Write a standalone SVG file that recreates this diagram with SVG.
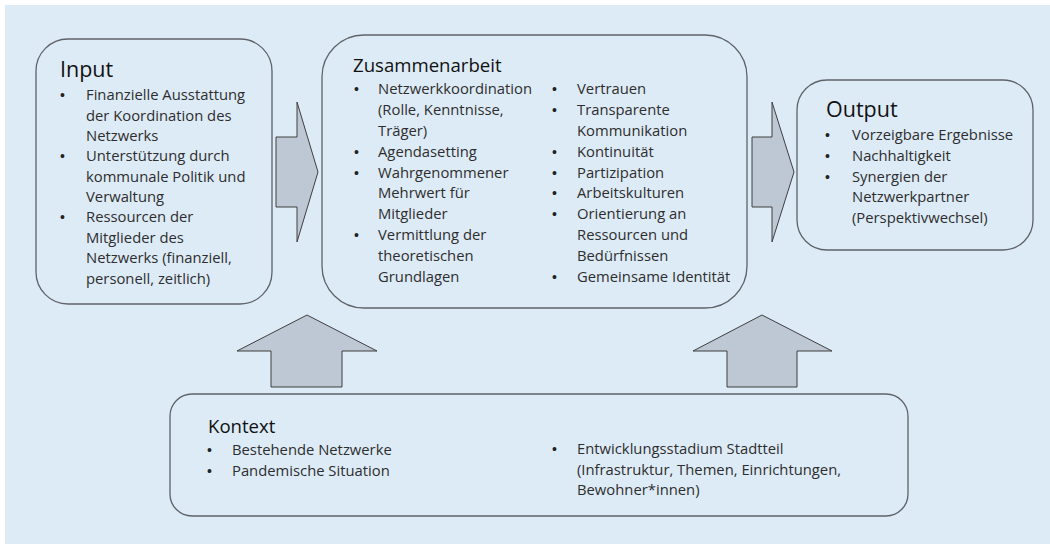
<svg xmlns="http://www.w3.org/2000/svg" width="1050" height="544" viewBox="0 0 1050 544">
<style>
.box{fill:#ddebf7;stroke:#5f6368;stroke-width:1.3}
.arrow{fill:#bdc8d4;stroke:#3f3f3f;stroke-width:1}
.title{font-family:"Open Sans","Liberation Sans",sans-serif;font-size:18.6px;fill:#111}
.big{font-size:21.5px}
.t{font-family:"Open Sans","Liberation Sans",sans-serif;font-size:14.8px;fill:#2e2e2e}
.b{font-family:"Liberation Sans",sans-serif;font-size:14px;fill:#222}
</style>
<rect x="5" y="5" width="1045" height="539" fill="#ddebf7"/>
<g id="connectors">
<path class="arrow" d="M276,137 H297 V102 L318,172 L297,242 V207 H276 Z"/>
<path class="arrow" d="M752,137 H772 V102 L794,172 L772,242 V207 H752 Z"/>
<path class="arrow" d="M271,387 V351 H237 L307,315 L377,351 H342 V387 Z"/>
<path class="arrow" d="M727,387 V351 H693 L762,315 L832,351 H797 V387 Z"/>
</g>
<g id="input">
<rect class="box" x="36" y="39" width="236" height="265" rx="32"/>
<text class="title big" x="60" y="77">Input</text>
<g class="b"><text x="60" y="100">•</text><text x="60" y="161">•</text><text x="60" y="222">•</text></g>
<g class="t">
<text x="86" y="100">Finanzielle Ausstattung</text>
<text x="86" y="121">der Koordination des</text>
<text x="86" y="141">Netzwerks</text>
<text x="86" y="161">Unterstützung durch</text>
<text x="86" y="182">kommunale Politik und</text>
<text x="86" y="202">Verwaltung</text>
<text x="86" y="222">Ressourcen der</text>
<text x="86" y="243">Mitglieder des</text>
<text x="86" y="263">Netzwerks (finanziell,</text>
<text x="86" y="284">personell, zeitlich)</text>
</g>
</g>
<g id="zusammenarbeit">
<rect class="box" x="322" y="35" width="425" height="273" rx="42"/>
<text class="title" x="353" y="72">Zusammenarbeit</text>
<g class="b"><text x="354" y="94">•</text><text x="354" y="157">•</text><text x="354" y="178">•</text><text x="354" y="240">•</text>
<text x="552" y="94">•</text><text x="552" y="115">•</text><text x="552" y="157">•</text><text x="552" y="178">•</text><text x="552" y="198">•</text><text x="552" y="219">•</text><text x="552" y="282">•</text></g>
<g class="t">
<text x="378" y="94">Netzwerkkoordination</text>
<text x="378" y="115">(Rolle, Kenntnisse,</text>
<text x="378" y="136">Träger)</text>
<text x="378" y="157">Agendasetting</text>
<text x="378" y="178">Wahrgenommener</text>
<text x="378" y="198">Mehrwert für</text>
<text x="378" y="219">Mitglieder</text>
<text x="378" y="240">Vermittlung der</text>
<text x="378" y="261">theoretischen</text>
<text x="378" y="282">Grundlagen</text>
<text x="577" y="94">Vertrauen</text>
<text x="577" y="115">Transparente</text>
<text x="577" y="136">Kommunikation</text>
<text x="577" y="157">Kontinuität</text>
<text x="577" y="178">Partizipation</text>
<text x="577" y="198">Arbeitskulturen</text>
<text x="577" y="219">Orientierung an</text>
<text x="577" y="240">Ressourcen und</text>
<text x="577" y="261">Bedürfnissen</text>
<text x="577" y="282">Gemeinsame Identität</text>
</g>
</g>
<g id="output">
<rect class="box" x="797" y="80" width="236" height="170" rx="30"/>
<text class="title big" x="826" y="117">Output</text>
<g class="b"><text x="825" y="140">•</text><text x="825" y="161">•</text><text x="825" y="182">•</text></g>
<g class="t">
<text x="852" y="140">Vorzeigbare Ergebnisse</text>
<text x="852" y="161">Nachhaltigkeit</text>
<text x="852" y="182">Synergien der</text>
<text x="852" y="202">Netzwerkpartner</text>
<text x="852" y="223">(Perspektivwechsel)</text>
</g>
</g>
<g id="kontext">
<rect class="box" x="170" y="394" width="738" height="122" rx="22"/>
<text class="title" x="208" y="433">Kontext</text>
<g class="b"><text x="207" y="455">•</text><text x="207" y="476">•</text><text x="552" y="454">•</text></g>
<g class="t">
<text x="232" y="455">Bestehende Netzwerke</text>
<text x="232" y="476">Pandemische Situation</text>
<text x="577" y="454">Entwicklungsstadium Stadtteil</text>
<text x="577" y="475">(Infrastruktur, Themen, Einrichtungen,</text>
<text x="577" y="495">Bewohner*innen)</text>
</g>
</g>
</svg>
